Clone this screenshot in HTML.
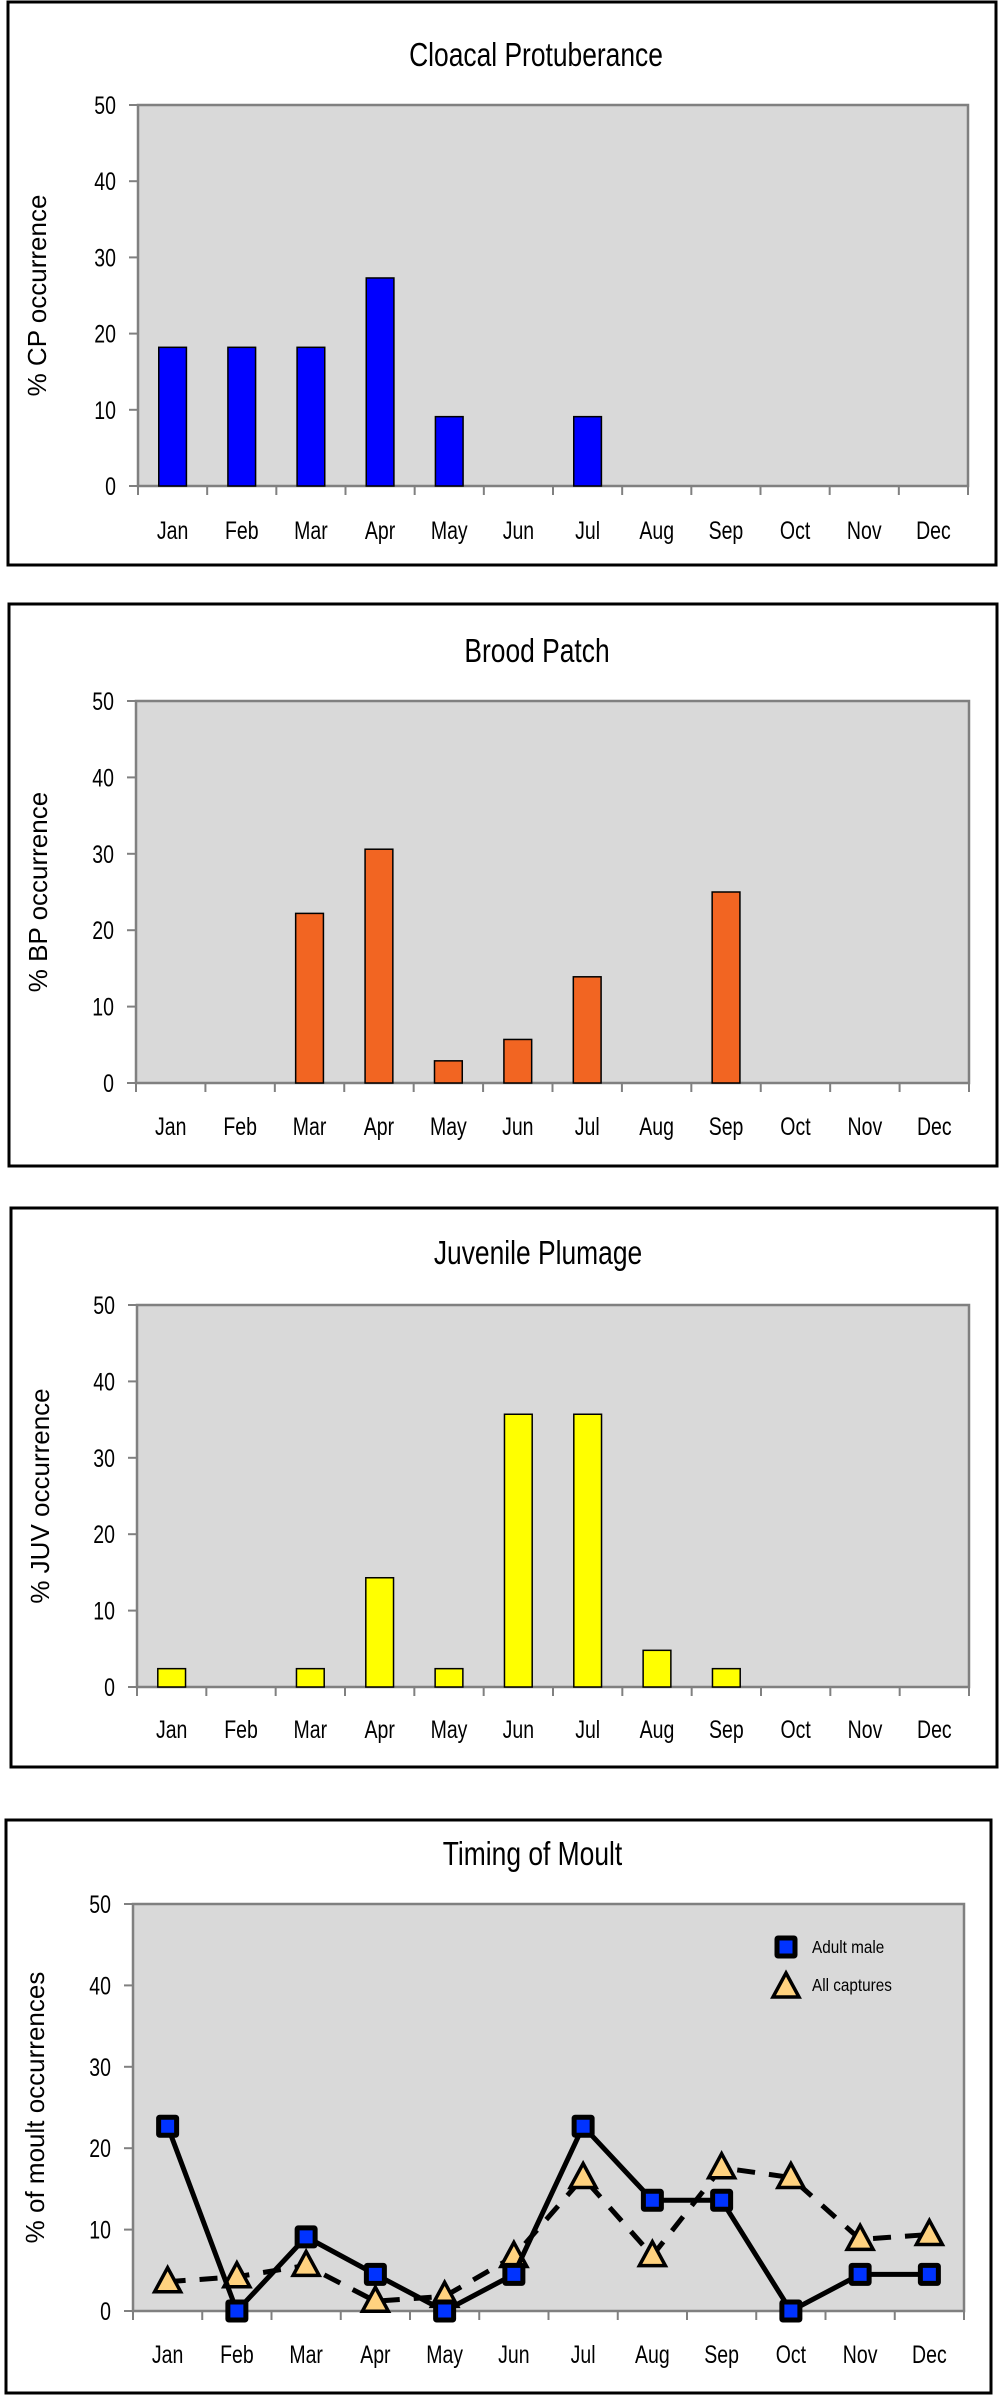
<!DOCTYPE html>
<html><head><meta charset="utf-8">
<style>
body{margin:0;background:#fff;width:1000px;height:2403px;overflow:hidden}
svg{display:block}
.t{font-family:"Liberation Sans",sans-serif}
</style></head>
<body>
<svg id="root" width="1000" height="2403" xmlns="http://www.w3.org/2000/svg"></svg>
<script>
const months = ["Jan","Feb","Mar","Apr","May","Jun","Jul","Aug","Sep","Oct","Nov","Dec"];
const yTicks = [0,10,20,30,40,50];
const cpValues = [18.2,18.2,18.2,27.3,9.1,0,9.1,0,0,0,0,0];
const bpValues = [0,0,22.2,30.6,2.9,5.7,13.9,0,25.0,0,0,0];
const juvValues = [2.4,0,2.4,14.3,2.4,35.7,35.7,4.8,2.4,0,0,0];
const adultMale = [22.7,0,9.1,4.5,0,4.5,22.7,13.6,13.6,0,4.5,4.5];
const allCaptures = [3.6,4.2,5.6,1.2,1.8,6.7,16.4,6.8,17.6,16.4,8.8,9.4];

const NS="http://www.w3.org/2000/svg";
const root=document.getElementById('root');
function mk(tag,attrs,parent){const e=document.createElementNS(NS,tag);for(const k in attrs)e.setAttribute(k,attrs[k]);(parent||root).appendChild(e);return e;}
function ntext(x,y,size,anchor,parent,sx){
  return mk('text',{x:0,y:0,'text-anchor':anchor,'font-size':size,class:'t',transform:`translate(${x},${y}) scale(${sx||0.78},1)`},parent);
}

function panel(cfg){
  const g=mk('g',{});
  
  
  const box=mk('rect',{x:cfg.bx,y:cfg.by,width:cfg.bw,height:cfg.bh,fill:'#fff',stroke:'#000','stroke-width':3},g);
  
  
  const title=ntext(cfg.bx+cfg.bw/2+34,cfg.ty,33,'middle',g,0.8);
  title.textContent=cfg.title;
  
  
  const L=cfg.pl,R=cfg.pr,T=cfg.pt,B=cfg.pb;
  const y=v=>B-(v/50)*(B-T);
  const cw=(R-L)/12;
  const xc=i=>L+cw*(i+0.5);
  const plot=mk('rect',{x:L,y:T,width:R-L,height:B-T,fill:'#d9d9d9',stroke:'#808080','stroke-width':2.5},g);
  
  
  yTicks.forEach(v=>{
    mk('line',{x1:L-9,x2:L,y1:y(v),y2:y(v),stroke:'#808080','stroke-width':2},g);
    const t=ntext(L-22,y(v)+9,25,'end',g);
    t.textContent=v;
    
    
  });
  for(let i=0;i<=12;i++) mk('line',{x1:L+cw*i,x2:L+cw*i,y1:B,y2:B+9,stroke:'#808080','stroke-width':2},g);
  months.forEach((m,i)=>{
    const t=ntext(xc(i),cfg.ly+1,25,'middle',g);
    t.textContent=m;
    
    
  });
  const yt=mk('text',{x:0,y:0,'text-anchor':'middle','font-size':26,'font-family':'"Liberation Sans",sans-serif',transform:`translate(${cfg.bx+38},${(T+B)/2}) rotate(-90)`},g);
  yt.textContent=cfg.ytitle;
  
  
  if(cfg.values){
    const bw=cw*0.4;
    cfg.values.forEach((v,i)=>{
      if(v<=0)return;
      const r=mk('rect',{x:xc(i)-bw/2,y:y(v),width:bw,height:B-y(v),fill:cfg.color,stroke:'#000','stroke-width':1.5},g);
      
      
    });
  }
  return {g,y,xc};
}

panel({name:'cloacal-protuberance-chart',bx:8,by:2,bw:988,bh:563,ty:66,pl:138,pr:968,pt:105,pb:486,ly:538,title:'Cloacal Protuberance',ytitle:'% CP occurrence',values:cpValues,color:'#0000ff'});
panel({name:'brood-patch-chart',bx:9,by:604,bw:988,bh:562,ty:662,pl:136,pr:969,pt:701,pb:1083,ly:1134,title:'Brood Patch',ytitle:'% BP occurrence',values:bpValues,color:'#f26522'});
panel({name:'juvenile-plumage-chart',bx:11,by:1208,bw:986,bh:559,ty:1264,pl:137,pr:969,pt:1305,pb:1687,ly:1737,title:'Juvenile Plumage',ytitle:'% JUV occurrence',values:juvValues,color:'#ffff00'});
const p4=panel({name:'timing-of-moult-chart',bx:6,by:1820,bw:985,bh:573,ty:1865,pl:133,pr:964,pt:1904,pb:2311,ly:2362,title:'Timing of Moult',ytitle:'% of moult occurrences'});

const g4=p4.g;
const dl=mk('polyline',{points:allCaptures.map((v,i)=>p4.xc(i)+','+p4.y(v)).join(' '),fill:'none',stroke:'#000','stroke-width':5,'stroke-dasharray':'18 14'},g4);


function tri(cx,cy,parent){return mk('polygon',{points:`${cx},${cy-14} ${cx+13},${cy+10} ${cx-13},${cy+10}`,fill:'#ffd27f',stroke:'#000','stroke-width':3.5,'stroke-linejoin':'miter'},parent);}
allCaptures.forEach((v,i)=>{
  const t=tri(p4.xc(i),p4.y(v),g4);
  
  
});
const sl=mk('polyline',{points:adultMale.map((v,i)=>p4.xc(i)+','+p4.y(v)).join(' '),fill:'none',stroke:'#000','stroke-width':5},g4);


adultMale.forEach((v,i)=>{
  const s=mk('rect',{x:p4.xc(i)-9,y:p4.y(v)-9,width:18,height:18,fill:'#0033ff',stroke:'#000','stroke-width':5,rx:1},g4);
  
  
});
const lg=mk('g',{},g4);


const ls=mk('rect',{x:777,y:1938,width:18,height:18,fill:'#0033ff',stroke:'#000','stroke-width':5,rx:1},lg);


const lt1=ntext(812,1953,18,'start',lg,0.85);
lt1.textContent='Adult male';


const ltri=tri(786,1987,lg);


const lt2=ntext(812,1991,18,'start',lg,0.85);
lt2.textContent='All captures';


</script>
</body></html>
